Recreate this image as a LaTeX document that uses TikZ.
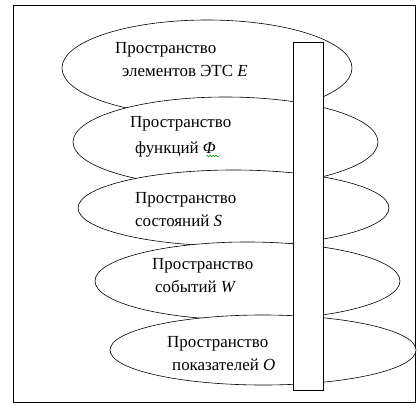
\documentclass[tikz,border=0pt]{standalone}
\usepackage{fontspec}
\setmainfont{Liberation Serif}
\usetikzlibrary{shapes.geometric,decorations.pathmorphing}
\begin{document}
\begin{tikzpicture}[x=1bp,y=-1bp,
  sp/.style={draw=black,fill=white,line width=0.6bp},
  lbl/.style={anchor=west,inner sep=0pt,font=\fontsize{17}{20}\selectfont}]
\useasboundingbox (0,0) rectangle (420,405);
\node[draw=black,line width=0.8bp,minimum width=402bp,minimum height=397bp,inner sep=0pt] (frame) at (214,203.5) {};
\node[sp,ellipse,minimum width=290bp,minimum height=96bp,inner sep=0pt] (e1) at (207,68) {};
\node[sp,ellipse,minimum width=305bp,minimum height=90bp,inner sep=0pt] (e2) at (225.5,142) {};
\node[sp,ellipse,minimum width=311bp,minimum height=76bp,inner sep=0pt] (e3) at (233.5,208) {};
\node[sp,ellipse,minimum width=305bp,minimum height=78bp,inner sep=0pt] (e4) at (247.5,281) {};
\node[sp,ellipse,minimum width=306bp,minimum height=70bp,inner sep=0pt] (e5) at (263,350) {};
\node[sp,minimum width=30bp,minimum height=348bp,inner sep=0pt] (bar) at (308,216) {};
\node[lbl] (t1a) at (115,50) {Пространство};
\node[lbl] (t1b) at (122,71) {элементов ЭТС \textit{E}};
\node[lbl] (t2a) at (130,124) {Пространство};
\node[lbl] (t2b) at (135,149) {функций \textit{Φ}};
\node[lbl] (t3a) at (135,200) {Пространство};
\node[lbl] (t3b) at (135,221) {состояний \textit{S}};
\node[lbl] (t4a) at (152,266) {Пространство};
\node[lbl] (t4b) at (155,287) {событий \textit{W}};
\node[lbl] (t5a) at (167,344) {Пространство};
\node[lbl] (t5b) at (172,365) {показателей \textit{O}};
\coordinate (sq1) at (206,156);
\coordinate (sq2) at (219,156);
\draw[green!60!black,line width=0.5bp,decorate,decoration={snake,amplitude=0.8bp,segment length=3bp}] (sq1) -- (sq2);
\end{tikzpicture}
\end{document}
